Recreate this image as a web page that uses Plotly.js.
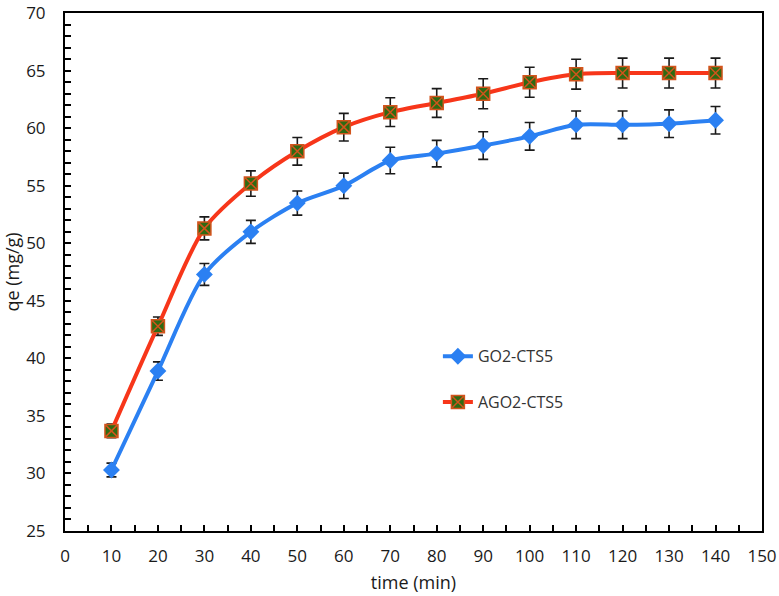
<!DOCTYPE html>
<html>
<head>
<meta charset="utf-8">
<script src="https://cdn.plot.ly/plotly-3.0.1.min.js"></script>
<style>
    html, body { margin: 0; padding: 0; background: #fff; }
    #chart { width: 779px; height: 596px; }
</style>
</head>
<body>
<div id="chart"></div>
<script>
// contact time (min)
const time = [10, 20, 30, 40, 50, 60, 70, 80, 90, 100, 110, 120, 130, 140]

// qe values (mg/g)
const go2Cts5 = [30.3, 38.9, 47.3, 51.0, 53.5, 55.0, 57.2, 57.8, 58.5, 59.3, 60.3, 60.3, 60.4, 60.7]
const go2Cts5Err = [0.6, 0.8, 0.95, 1.0, 1.05, 1.1, 1.15, 1.15, 1.2, 1.2, 1.2, 1.2, 1.2, 1.2]

const ago2Cts5 = [33.7, 42.8, 51.3, 55.2, 58.0, 60.1, 61.4, 62.2, 63.0, 64.0, 64.7, 64.8, 64.8, 64.8]
const ago2Cts5Err = [0.6, 0.8, 1.0, 1.1, 1.2, 1.2, 1.25, 1.25, 1.3, 1.3, 1.3, 1.3, 1.3, 1.3]

const seriesNames = ["GO2-CTS5", "AGO2-CTS5"]

const errStyle = (arr) => ({
    type: "data",
    array: arr,
    visible: true,
    color: "#1a1a1a",
    thickness: 1.6,
    width: 5,
})

const traceGo = {
    x: time,
    y: go2Cts5,
    name: seriesNames[0],
    legendgroup: "a",
    type: "scatter",
    mode: "lines+markers",
    line: { color: "#2b80f2", width: 4, shape: "spline", smoothing: 0.8 },
    marker: { symbol: "diamond", size: 13, color: "#2b80f2" },
    error_y: errStyle(go2Cts5Err),
}

const traceAgo = {
    x: time,
    y: ago2Cts5,
    name: seriesNames[1],
    legendgroup: "b",
    type: "scatter",
    mode: "lines+markers",
    line: { color: "#f7361a", width: 4, shape: "spline", smoothing: 0.8 },
    marker: {
        symbol: "square-x",
        size: 13,
        color: "#2f6a12",
        line: { color: "#d2541c", width: 1.5 },
    },
    error_y: errStyle(ago2Cts5Err),
}

const axisFont = { family: "Open Sans, sans-serif", size: 17, color: "#1a1a1a" }
const titleFont = { family: "Open Sans, sans-serif", size: 18, color: "#1a1a1a" }

const layout = {
    width: 779,
    height: 596,
    paper_bgcolor: "#fff",
    plot_bgcolor: "#fff",
    font: axisFont,
    showlegend: true,
    margin: { l: 65, r: 17, t: 13, b: 65 },
    xaxis: {
        range: [0, 150],
        dtick: 10,
        tick0: 0,
        ticks: "inside",
        ticklen: 6,
        tickwidth: 2,
        tickcolor: "#000",
        minor: { dtick: 5, ticks: "inside", ticklen: 6, tickwidth: 2, tickcolor: "#000" },
        showline: true,
        linecolor: "#000",
        linewidth: 2,
        mirror: true,
        showgrid: false,
        zeroline: false,
        ticklabelstandoff: 9,
        tickfont: axisFont,
        title: { text: "time (min)", font: titleFont, standoff: 10 },
    },
    yaxis: {
        range: [25, 70.02],
        dtick: 5,
        tick0: 25,
        ticks: "inside",
        ticklen: 6,
        tickwidth: 2,
        tickcolor: "#000",
        minor: { dtick: 1, ticks: "inside", ticklen: 6, tickwidth: 2, tickcolor: "#000" },
        showline: true,
        linecolor: "#000",
        linewidth: 2,
        mirror: true,
        showgrid: false,
        zeroline: false,
        ticklabelstandoff: 14,
        ticklabeloverflow: "allow",
        tickfont: axisFont,
        title: { text: "qe (mg/g)", font: titleFont, standoff: 8 },
    },
    legend: {
        x: 0.535,
        y: 0.37,
        xanchor: "left",
        yanchor: "top",
        bgcolor: "rgba(0,0,0,0)",
        traceorder: "grouped",
        tracegroupgap: 22,
        font: { family: "Open Sans, sans-serif", size: 16, color: "#333" },
    },
}

const config = { displayModeBar: false, responsive: false }

Plotly.newPlot("chart", [traceGo, traceAgo], layout, config)
</script>
</body>
</html>
